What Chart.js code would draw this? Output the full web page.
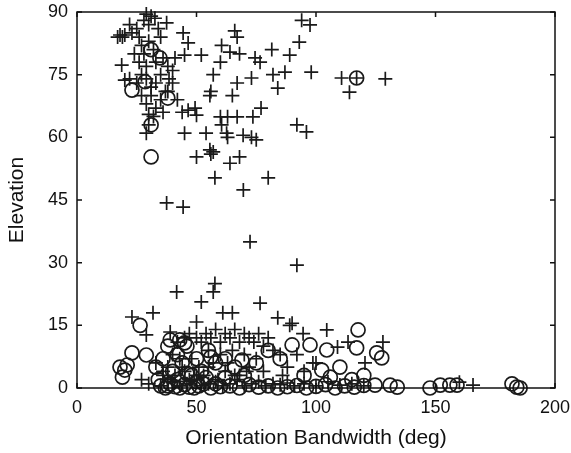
<!DOCTYPE html>
<html>
<head>
<meta charset="utf-8">
<script src="https://cdn.jsdelivr.net/npm/chart.js@4"></script>
<style>
  html, body { margin: 0; padding: 0; background: #fff; }
  #wrap { width: 571px; height: 453px; }
</style>
</head>
<body>
<div id="wrap"><canvas id="scatterChart"></canvas></div>
<script>
// Orientation bandwidth (deg) vs elevation, '+' and 'o' groups
const plusBandwidth = [
  17, 18, 19, 20, 22, 23, 25, 26, 27, 28, 29, 30, 31, 32.6, 34, 35, 37.5, 30, 32, 28,
  26, 24, 29, 33, 36, 38, 40, 41, 44.4, 46.5, 45, 18.7, 20, 22, 25, 27, 29, 31, 33, 35,
  37, 38.5, 40, 27, 29, 30, 31, 33, 35, 38, 36, 29, 30, 32, 42, 44,
  52, 57, 60.5, 60, 64, 66, 67, 68, 74.5, 76.6, 81.5, 89, 93, 94, 97.5, 98, 87, 82, 84, 73,
  67, 65, 55.6, 56, 49.4, 46.5, 50, 60, 63, 67, 73.6, 77, 92, 96, 45, 54, 60.5, 62.6, 69.5, 73,
  75, 55.6, 57, 56, 50, 64, 68, 57.7, 80, 69.6, 110.7, 117, 129, 114, 37.5, 44.4, 72.4, 92, 63,
  57.7, 57, 41.7, 52, 76.6, 23, 31.8, 29, 84, 89, 94.6, 61, 65, 50, 39, 90, 104.5, 128, 113.4, 109,
  120.5, 98.7, 160, 165.7,
  42, 45, 47, 50, 52, 54, 56, 58, 60, 62, 64, 66, 68, 70, 72, 74, 76, 78, 80, 55,
  60, 65, 70, 75, 82, 85, 88, 92, 48, 44, 40, 36, 33, 38, 100,
  30, 35, 40, 43, 46, 49, 52, 55, 58, 61, 64, 67, 70, 73, 76, 79, 82, 85, 88, 91,
  95, 100, 105, 110, 115, 120, 45, 50, 55, 62, 68, 72, 78, 86, 95, 27,
  36, 38, 41, 43, 47, 51, 53, 57, 59, 63, 66, 71
];
const plusElevation = [
  84, 84.5, 84, 84.5, 87, 85, 86, 84, 82, 88, 89.5, 87, 89, 88.5, 86, 84, 87.4, 83, 81, 80,
  78, 80, 77, 78, 79, 77, 76, 79, 85, 82.6, 79.7, 77.3, 73.7, 74, 73, 75, 74, 72, 73, 75,
  71, 74, 73, 70, 68, 65.5, 70, 67, 69, 71, 66, 61, 63, 65, 69, 66,
  79.7, 75, 82, 78, 80.4, 85.5, 84, 80, 79, 78, 81, 79.7, 82.8, 88, 86.9, 75.6, 75.6, 75, 71.8, 74.2,
  73, 70, 70, 71, 67, 66.5, 65.3, 64.9, 64.9, 64.9, 64.9, 67, 63, 61.3, 61, 61, 63, 61, 60.5, 60,
  59.4, 57, 56.5, 56, 55.3, 53.8, 55.3, 50.3, 50.3, 47.4, 74.2, 74.2, 74, 70.8, 44.3, 43.3, 35, 29.4, 60,
  25, 23, 23, 20.6, 20.3, 17, 18, 12.7, 16.8, 15, 13, 18, 18, 15.8, 13.4, 15.5, 13.9, 11, 11, 9.8,
  6, 6, 1.4, 0.7,
  11, 12, 13, 12, 11, 13, 12, 14, 11, 13, 12, 14, 11, 13, 12, 11, 13, 10, 12, 9,
  8, 9, 8, 7, 9, 8, 5, 8, 7, 5, 8, 4, 6, 2, 6,
  1, 0.5, 1.5, 0.5, 1, 2, 0.5, 1, 1.5, 0.5, 1, 2, 0.5, 1, 1.5, 0.5, 1, 0.8, 1.2, 0.5,
  1, 0.5, 1.5, 0.7, 1, 0.5, 4, 3, 5, 4, 3, 5, 4, 3, 4, 2,
  3, 5, 3, 7, 2, 5, 3, 6, 2, 6, 3, 4
];
const circleBandwidth = [
  31, 34.7, 23, 28.5, 38, 31, 31, 117,
  26.4, 19, 18, 21, 23, 29, 20, 90, 97.5, 104.5, 117, 125.4, 127.5, 117.6, 102.4, 106,
  152, 156, 159, 147.7, 182, 184, 185.4, 131, 134, 124.7,
  35, 37, 39, 41, 43, 45, 47, 49, 51, 53, 56, 60, 64, 68, 72, 76, 80, 84, 88, 92,
  96, 100, 104, 108, 112, 116, 120,
  33, 36, 38, 40, 42, 44, 46, 48, 50, 52, 55, 58, 62, 66, 70, 75, 80, 85, 95, 110,
  115, 120, 69, 56, 43, 45, 39,
  34, 38, 42, 46, 50, 54, 58, 62
];
const circleElevation = [
  81, 79, 71.3, 73.3, 69.4, 63, 55.3, 74.2,
  15, 2.6, 5, 5.5, 8.4, 7.9, 4.3, 10.3, 10.3, 9.1, 9.6, 8.4, 7.2, 13.9, 4.3, 2.6,
  0.7, 0.7, 0.7, 0, 1, 0.2, 0, 0.7, 0.2, 0.7,
  0.5, 0, 1, 0.3, 0, 0.8, 0.2, 0, 0.5, 1, 0, 0.3, 0.5, 0, 0.8, 0.2, 0.5, 0, 0.3, 0.6,
  0, 0.4, 0.8, 0, 0.5, 0.2, 0.6,
  5, 7, 10, 4, 8, 6, 10, 3, 7, 4, 9, 6, 7, 5, 3, 6, 9, 7, 3, 5,
  2, 3, 6.7, 7.4, 11.5, 10.8, 11.5,
  2, 0.5, 2, 3.5, 1.5, 2.5, 1, 2.5
];

const toPoints = (xs, ys) => xs.map((v, i) => ({ x: v, y: ys[i] }));

// box round the plot with inward ticks on all four sides
const boxTicks = {
  id: 'boxTicks',
  afterDatasetsDraw(chart) {
    const { ctx, chartArea: a, scales: { x, y } } = chart;
    ctx.save();
    ctx.strokeStyle = '#111';
    ctx.lineWidth = 1.5;
    ctx.strokeRect(a.left, a.top, a.right - a.left, a.bottom - a.top);
    ctx.beginPath();
    x.ticks.forEach(t => {
      const px = x.getPixelForValue(t.value);
      ctx.moveTo(px, a.bottom); ctx.lineTo(px, a.bottom - 5);
      ctx.moveTo(px, a.top); ctx.lineTo(px, a.top + 5);
    });
    y.ticks.forEach(t => {
      const py = y.getPixelForValue(t.value);
      ctx.moveTo(a.left, py); ctx.lineTo(a.left + 5, py);
      ctx.moveTo(a.right, py); ctx.lineTo(a.right - 5, py);
    });
    ctx.stroke();
    ctx.restore();
  }
};

const ctx = document.getElementById('scatterChart').getContext('2d');
const fontFamily = 'Liberation Sans, Arial, sans-serif';

new Chart(ctx, {
  type: 'scatter',
  data: {
    datasets: [
      {
        label: 'plus',
        data: toPoints(plusBandwidth, plusElevation),
        pointStyle: 'cross',
        pointRadius: 7,
        borderColor: '#1a1a1a',
        borderWidth: 1.7,
        clip: false,
      },
      {
        label: 'circle',
        data: toPoints(circleBandwidth, circleElevation),
        pointStyle: 'circle',
        pointRadius: 7,
        backgroundColor: 'rgba(0,0,0,0)',
        borderColor: '#1a1a1a',
        borderWidth: 1.7,
        clip: false,
      }
    ]
  },
  options: {
    responsive: true,
    maintainAspectRatio: false,
    animation: false,
    events: [],
    layout: { padding: { top: 12, right: 16, left: 0, bottom: 0 } },
    plugins: {
      legend: { display: false },
      tooltip: { enabled: false },
    },
    scales: {
      x: {
        type: 'linear',
        min: 0,
        max: 200,
        grid: { display: false, drawTicks: false },
        border: { display: false },
        ticks: {
          stepSize: 50,
          padding: 9,
          color: '#111',
          font: { family: fontFamily, size: 18 },
        },
        title: {
          display: true,
          text: 'Orientation Bandwidth (deg)',
          color: '#111',
          padding: { top: 0, bottom: 2 },
          font: { family: fontFamily, size: 21 },
        },
        afterFit(scale) {
          scale.height = 65;
          scale.paddingLeft = 0;
          scale.paddingRight = 0;
        },
      },
      y: {
        type: 'linear',
        min: 0,
        max: 90,
        grid: { display: false, drawTicks: false },
        border: { display: false },
        ticks: {
          stepSize: 15,
          padding: 9,
          color: '#111',
          font: { family: fontFamily, size: 18 },
        },
        title: {
          display: true,
          text: 'Elevation',
          color: '#111',
          padding: { top: 5, bottom: 0 },
          font: { family: fontFamily, size: 21 },
        },
        afterFit(scale) {
          scale.width = 77;
          scale.paddingTop = 0;
          scale.paddingBottom = 0;
        },
      }
    }
  },
  plugins: [boxTicks]
});
</script>
</body>
</html>
